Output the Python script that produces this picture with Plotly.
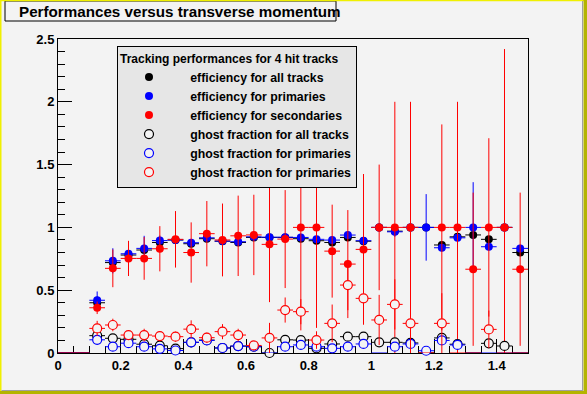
import plotly.graph_objects as go

# ---------------- data ----------------
pt = [0.025, 0.075, 0.125, 0.175, 0.225, 0.275, 0.325, 0.375, 0.425, 0.475,
      0.525, 0.575, 0.625, 0.675, 0.725, 0.775, 0.825, 0.875, 0.925, 0.975,
      1.025, 1.075, 1.125, 1.175, 1.225, 1.275, 1.325, 1.375, 1.425, 1.475]
bin_half_width = 0.025

eff_all = [0, 0, 0.40, 0.72, 0.78, 0.82, 0.88, 0.90, 0.87, 0.91,
           0.89, 0.88, 0.92, 0.92, 0.92, 0.91, 0.894, 0.88, 0.92, 0.89,
           1.0, 0.97, 1.0, 1.0, 0.86, 0.925, 0.94, 0.905, 1.0, 0.80]
eff_all_err = [0, 0, 0.05, 0.04, 0.03, 0.03, 0.02, 0.02, 0.02, 0.02,
               0.02, 0.02, 0.02, 0.02, 0.02, 0.02, 0.02, 0.02, 0.02, 0.02,
               0.02, 0.02, 0.02, 0.02, 0.03, 0.02, 0.02, 0.02, 0.02, 0.03]

eff_prim = [0, 0, 0.42, 0.734, 0.79, 0.833, 0.895, 0.90, 0.878, 0.917,
            0.891, 0.886, 0.925, 0.922, 0.922, 0.92, 0.905, 0.899, 0.939, 0.894,
            1.0, 0.965, 1.0, 1.0, 0.838, 0.917, 1.0, 0.846, 1.0, 0.833]
eff_prim_err = [0, 0, 0.07, 0.10, 0.06, 0.10, 0.04, 0.03, 0.03, 0.03,
                0.03, 0.03, 0.03, 0.03, 0.03, 0.03, 0.03, 0.03, 0.03, 0.03,
                0.03, 0.04, 0.03, 0.265, 0.03, 0.03, 0.36, 0.03, 0.03, 0.03]

eff_sec = [0, 0, 0.36, 0.674, 0.753, 0.753, 0.83, 0.905, 0.80, 0.95,
           0.90, 0.933, 0.94, 0.865, 0.907, 1.0, 1.0, 0.811, 0.708, 0.825,
           1.0, 1.0, 1.0, 0, 1.0, 1.0, 0.667, 1.0, 1.0, 0.667]
eff_sec_err = [0, 0, 0.05, 0.15, 0.14, 0.17, 0.18, 0.225, 0.24, 0.26,
               0.29, 0.32, 0.32, 0.46, 0.39, 0.82, 0.80, 0.37, 0.43, 0.60,
               0.50, 1.0, 1.0, 0, 0.82, 1.0, 0.61, 0.71, 1.42, 0.61]

ghost_all = [0, 0, 0.138, 0.117, 0.109, 0.07, 0.058, 0.035, 0.085, 0.103,
             0.04, 0.055, 0.05, 0.0, 0.105, 0.103, 0.037, 0.072, 0.13, 0.13,
             0.085, 0.085, 0.08, 0, 0.12, 0.07, 0, 0.077, 0.056, 0]
ghost_all_err = [0, 0, 0.03, 0.03, 0.03, 0.02, 0.02, 0.02, 0.02, 0.02,
                 0.02, 0.02, 0.02, 0.03, 0.03, 0.03, 0.02, 0.03, 0.03, 0.03,
                 0.03, 0.03, 0.03, 0, 0.03, 0.03, 0, 0.03, 0.03, 0]

ghost_prim = [0, 0, 0.105, 0.05, 0.078, 0.05, 0.033, 0.02, 0.085, 0.10,
              0.04, 0.055, 0.05, 0, 0.05, 0.064, 0.05, 0.037, 0.05, 0.072,
              0, 0.05, 0.072, 0.018, 0.10, 0.064, 0, 0, 0, 0]
ghost_prim_err = [0, 0, 0.02, 0.02, 0.02, 0.02, 0.02, 0.02, 0.02, 0.02,
                  0.02, 0.02, 0.02, 0, 0.02, 0.02, 0.02, 0.02, 0.02, 0.02,
                  0, 0.02, 0.02, 0.02, 0.02, 0.02, 0, 0, 0, 0]

ghost_sec = [0, 0, 0.196, 0.223, 0.143, 0.143, 0.135, 0.13, 0.19, 0.122,
             0.17, 0.143, 0.06, 0.12, 0.342, 0.329, 0.103, 0.236, 0.541, 0.435,
             0.263, 0.387, 0.236, 0, 0.236, 0, 0, 0.188, 0, 0]
ghost_sec_err = [0, 0, 0.06, 0.05, 0.04, 0.05, 0.04, 0.04, 0.07, 0.04,
                 0.06, 0.05, 0.03, 0.12, 0.10, 0.10, 0.07, 0.15, 0.20, 0.15,
                 0.20, 0.20, 0.24, 0, 0.24, 0, 0, 0.15, 0, 0]

legend_title = "Tracking performances for 4 hit tracks"
series = [
    ("efficiency for all tracks", eff_all, eff_all_err, "black", True),
    ("efficiency for primaries", eff_prim, eff_prim_err, "#0000ff", True),
    ("efficiency for secondaries", eff_sec, eff_sec_err, "#ff0000", True),
    ("ghost fraction for all tracks", ghost_all, ghost_all_err, "black", False),
    ("ghost fraction for primaries", ghost_prim, ghost_prim_err, "#0000ff", False),
    ("ghost fraction for primaries", ghost_sec, ghost_sec_err, "#ff0000", False),
]

BG = "#f3f3f3"
FONT = "Liberation Sans"
PAD = "\u00a0" * 3  # indent of legend labels

fig = go.Figure()
for name, vals, errs, col, filled in series:
    keep = [i for i in range(len(pt)) if not (vals[i] == 0 and errs[i] == 0)]
    empty = [i for i in range(len(pt)) if vals[i] == 0 and errs[i] == 0]
    if filled:
        marker = dict(symbol="circle", size=8, color=col, line=dict(width=0))
    else:
        marker = dict(symbol="circle", size=9, color=BG, line=dict(color=col, width=1.2))
    fig.add_trace(go.Scatter(
        x=[pt[i] for i in keep], y=[vals[i] for i in keep], mode="markers",
        name=PAD + name, marker=marker, cliponaxis=False,
        error_y=dict(type="data", array=[errs[i] for i in keep], color=col,
                     thickness=1, width=0),
        error_x=dict(type="constant", value=bin_half_width, color=col,
                     thickness=1, width=0),
    ))
    if empty:
        fig.add_trace(go.Scatter(
            x=[pt[i] for i in empty], y=[vals[i] for i in empty], mode="markers",
            showlegend=False, hoverinfo="skip", cliponaxis=False,
            marker=dict(size=1, opacity=0, color=col),
            error_x=dict(type="constant", value=bin_half_width, color=col,
                         thickness=1, width=0),
        ))

def px_x(p):
    return (p - 58) / 470.0

def px_y(p):
    return (353 - p) / 314.0

shapes = [
    # title box
    dict(type="rect", xref="paper", yref="paper", x0=px_x(5), x1=px_x(336),
         y0=px_y(21), y1=px_y(1), line=dict(color="black", width=1), fillcolor=BG),
    # canvas bevel border
    dict(type="rect", xref="paper", yref="paper", x0=px_x(0), x1=px_x(1.5),
         y0=px_y(394), y1=px_y(0), line=dict(width=0), fillcolor="#f0f000"),
    dict(type="rect", xref="paper", yref="paper", x0=px_x(0), x1=px_x(587),
         y0=px_y(1.2), y1=px_y(0), line=dict(width=0), fillcolor="#f0f000"),
    dict(type="rect", xref="paper", yref="paper", x0=px_x(583.5), x1=px_x(587),
         y0=px_y(394), y1=px_y(0), line=dict(width=0), fillcolor="#b4b400"),
    dict(type="rect", xref="paper", yref="paper", x0=px_x(0), x1=px_x(587),
         y0=px_y(394), y1=px_y(391), line=dict(width=0), fillcolor="#b4b400"),
    dict(type="line", xref="paper", yref="paper", x0=px_x(582.5), x1=px_x(582.5),
         y0=px_y(391), y1=px_y(1), line=dict(color="#a0a0a0", width=1)),
    dict(type="line", xref="paper", yref="paper", x0=px_x(1.5), x1=px_x(583),
         y0=px_y(390.5), y1=px_y(390.5), line=dict(color="#a0a0a0", width=1)),
]

fig.update_layout(
    width=587, height=394,
    margin=dict(l=58, r=59, t=39, b=41),
    paper_bgcolor=BG, plot_bgcolor=BG,
    font=dict(family=FONT, size=13, color="black", weight="bold"),
    shapes=shapes,
    annotations=[dict(text="Performances versus transverse momentum",
                      xref="paper", yref="paper", x=px_x(17), y=px_y(11),
                      xanchor="left", yanchor="middle", showarrow=False,
                      font=dict(family=FONT, size=15.2, color="black", weight="bold"))],
    legend=dict(x=px_x(117), y=px_y(46), xanchor="left", yanchor="top",
                bgcolor="#e6e6e6", bordercolor="black", borderwidth=1,
                font=dict(family=FONT, size=12.3, color="black", weight="bold"),
                title=dict(text=legend_title,
                           font=dict(family=FONT, size=12, color="black", weight="bold")),
                itemwidth=52, tracegroupgap=0),
    showlegend=True,
)

axis_common = dict(showline=True, linecolor="black", linewidth=1, mirror=True,
                   showgrid=False, zeroline=False, ticks="inside", ticklen=14,
                   tickcolor="black", tickwidth=1, layer="below traces",
                   tickfont=dict(family=FONT, size=13, color="black", weight="bold"))
fig.update_xaxes(range=[0, 1.5], tick0=0, dtick=0.2,
                 minor=dict(dtick=0.05, ticks="inside", ticklen=7, tickcolor="black",
                            showgrid=False),
                 **axis_common)
fig.update_yaxes(range=[0, 2.5], tick0=0, dtick=0.5,
                 minor=dict(dtick=0.1, ticks="inside", ticklen=7, tickcolor="black",
                            showgrid=False),
                 **axis_common)

fig.write_html("out.html", config={"displayModeBar": False},
               post_script="document.body.style.margin='0px';document.body.style.overflow='hidden';")
